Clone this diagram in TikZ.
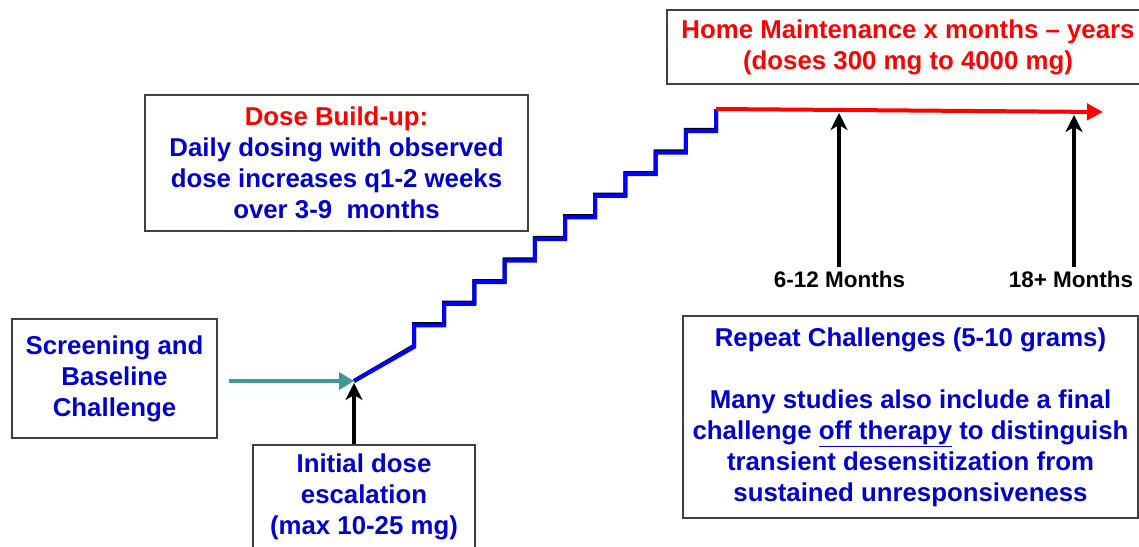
\documentclass[tikz,border=0pt]{standalone}
\usepackage{fontspec}
\setmainfont{Liberation Sans}
\usepackage{xcolor}
\usetikzlibrary{arrows.meta,positioning,calc}
\definecolor{phaseblue}{RGB}{0,0,204}
\definecolor{tealgreen}{RGB}{66,150,150}
\definecolor{boxgray}{RGB}{64,64,64}

\begin{document}
\begin{tikzpicture}[
        x=1pt, y=-1pt,
        phase/.style={draw=boxgray, line width=1.5pt, rectangle, align=center, text=phaseblue, inner sep=0pt, font=\fontsize{25.8}{31}\selectfont\bfseries},
        months/.style={anchor=base, font=\fontsize{22.5}{26}\selectfont\bfseries},
        arrow/.style={-{Stealth[length=17pt,width=17pt,inset=5pt]}, line width=3.5pt},
        stairs/.style={line width=4pt, line join=miter}
    ]
        \useasboundingbox (0,0) rectangle (1139,546);

        \node[phase, minimum width=205, minimum height=119] (screening) at (114.5,378.5) {Screening and\\Baseline\\Challenge};
        \node[phase, minimum width=383, minimum height=136] (buildup) at (336.5,163) {\textcolor{red}{Dose Build-up:}\\Daily dosing with observed\\dose increases q1-2 weeks\\over 3-9 \ months};
        \node[phase, text=red, minimum width=482, minimum height=74] (maintenance) at (908,47) {Home Maintenance x months – years\\(doses 300 mg to 4000 mg)};
        \node[phase, minimum width=455, minimum height=202] (repeat) at (910.5,417) {Repeat Challenges (5-10 grams)\\[31pt]Many studies also include a final\\challenge \underline{off therapy} to distinguish\\transient desensitization from\\sustained unresponsiveness};
        \node[phase, minimum width=222, minimum height=104] (initial) at (364,497) {Initial dose\\escalation\\(max 10-25 mg)};
        \node[months] (m6) at (839.5,287) {6-12 Months};
        \node[months] (m18) at (1071,287) {18+ Months};

        \coordinate (start) at (354,381);
        \coordinate (top) at (716,109);
        \coordinate (tip) at (1103,112);
        \coordinate (hit6) at (839,113);
        \coordinate (hit18) at (1074,115);

        % build-up staircase, black edge under the blue
        \foreach \col/\dy in {black/1.2, blue/0}
            \draw[stairs, draw=\col, yshift=\dy pt] (start) -- (414,347)
                \foreach \k in {0,...,9} { -- ++(0,-21.6) -- ++(30.2,0) } -- (top);

        \draw[red, line width=4pt, -{Triangle[length=16pt,width=16pt]}] (top) -- (tip);
        \draw[tealgreen, line width=4pt, shorten <=11pt, -{Triangle[length=15pt,width=17pt]}] (screening.east |- start) -- (start);
        \draw[arrow, shorten >=2pt] (initial.north -| start) -- (start);
        \draw[arrow] (m6.north -| hit6) -- (hit6);
        \draw[arrow] (m18.north -| hit18) -- (hit18);
    \end{tikzpicture}
\end{document}
